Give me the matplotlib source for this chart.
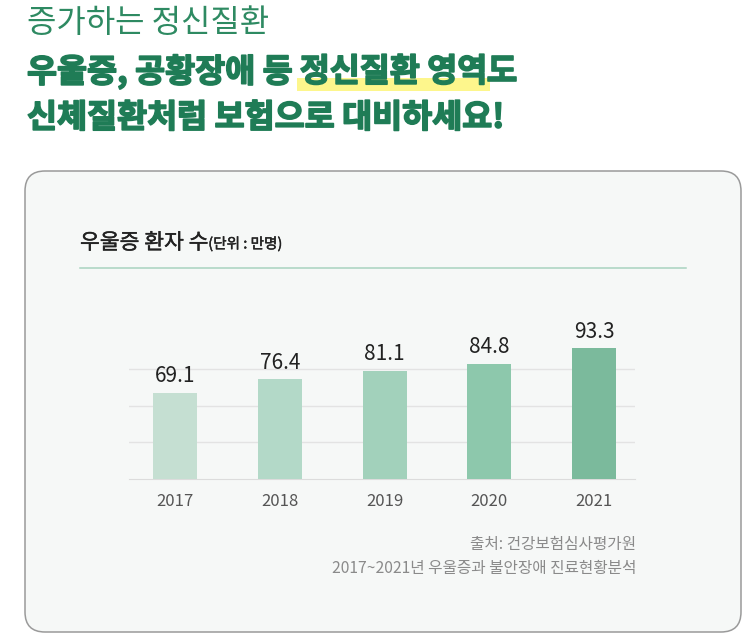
import matplotlib
matplotlib.use("Agg")
import matplotlib.pyplot as plt
import matplotlib.patheffects as pe
from matplotlib.patches import FancyBboxPatch, Rectangle

plt.rcParams['font.family'] = ['Noto Sans CJK KR', 'DejaVu Sans']

# 데이터
years = ['2017', '2018', '2019', '2020', '2021']
patients = [69.1, 76.4, 81.1, 84.8, 93.3]
bar_colors = ['#c5dfd2', '#b3d9c8', '#a2d1bb', '#8dc8ac', '#7bba9c']

head1 = '증가하는 정신질환'
head2_a = '우울증, 공황장애 등 '
head2_b = '정신질환 영역'
head2_c = '도'
head3 = '신체질환처럼 보험으로 대비하세요!'
chart_title = '우울증 환자 수'
chart_unit = '(단위 : 만명)'
source1 = '출처: 건강보험심사평가원'
source2 = '2017~2021년 우울증과 불안장애 진료현황분석'

W, H = 756, 643
fig = plt.figure(figsize=(W / 100, H / 100), dpi=100)
fig.patch.set_facecolor('white')

# 픽셀 좌표용 배경 축
bg = fig.add_axes([0, 0, 1, 1])
bg.set_xlim(0, W)
bg.set_ylim(H, 0)
bg.axis('off')

green = '#1f7c56'
heavy = [pe.withStroke(linewidth=1.2, foreground=green)]
medium = [pe.withStroke(linewidth=0.3, foreground='#222222')]

# 카드
card = FancyBboxPatch((25, 171), 716, 461, boxstyle='round,pad=0,rounding_size=20',
                      facecolor='#f6f8f7', edgecolor='#9a9a9a', linewidth=1.1)
bg.add_patch(card)

# 헤더
bg.text(27, 23, head1, fontsize=23, color='#2e8a62', va='center', ha='left')

fig.canvas.draw()
r = fig.canvas.get_renderer()
inv = bg.transData.inverted()

hs = 23.5
t_a = bg.text(27, 72, head2_a, fontsize=hs, fontweight='heavy', color=green, va='center', ha='left',
              path_effects=heavy)
x_a = inv.transform(t_a.get_window_extent(r))[1][0]
t_b = bg.text(x_a, 72, head2_b, fontsize=hs, fontweight='heavy', color=green, va='center', ha='left',
              zorder=3, path_effects=heavy)
x_b = inv.transform(t_b.get_window_extent(r))[1][0]
bg.add_patch(Rectangle((x_a - 3, 78), x_b - x_a + 6, 13, facecolor='#fdf68c', edgecolor='none', zorder=2))
bg.text(x_b, 72, head2_c, fontsize=hs, fontweight='heavy', color=green, va='center', ha='left',
        path_effects=heavy)

bg.text(27, 118, head3, fontsize=hs, fontweight='heavy', color=green, va='center', ha='left',
        path_effects=heavy)

# 차트 제목
t_t = bg.text(80, 243, chart_title, fontsize=15.5, color='#222222', va='center', ha='left',
              path_effects=medium)
x_t = inv.transform(t_t.get_window_extent(r))[1][0]
bg.text(x_t, 244, chart_unit, fontsize=10.5, color='#222222', va='center', ha='left',
        path_effects=medium)
bg.plot([80, 686], [268, 268], color='#a9d3bf', linewidth=1.1)

# 출처
bg.text(636, 545, source1, fontsize=11.3, color='#8a8a8a', va='center', ha='right')
bg.text(636, 569, source2, fontsize=11.3, color='#8a8a8a', va='center', ha='right')

# 막대 차트
ax = fig.add_axes([129 / W, (H - 479) / H, (635 - 129) / W, (479 - 300) / H])
ax.set_facecolor('none')
x = list(range(len(years)))
bars = ax.bar(x, patients, width=0.42, color=bar_colors, bottom=0, zorder=3)
ax.set_xlim(-0.44, 4.39)
ax.set_ylim(22, 22 + 179 / 1.835)
ax.set_yticks([42, 62, 82])
ax.yaxis.grid(True, color='#e3e3e3', linewidth=1)
ax.set_axisbelow(True)
ax.tick_params(axis='y', length=0, labelleft=False)
ax.tick_params(axis='x', length=0, pad=10, labelsize=12, labelcolor='#555555')
ax.set_xticks(x)
ax.set_xticklabels(years)
for s in ['top', 'right', 'left']:
    ax.spines[s].set_visible(False)
ax.spines['bottom'].set_color('#dcdcdc')
for xi, v in zip(x, patients):
    ax.annotate(f'{v}', (xi, v), xytext=(0, 4), textcoords='offset points',
                ha='center', va='bottom', fontsize=15, color='#222222')

fig.savefig('out.png', dpi=100, facecolor='white')
